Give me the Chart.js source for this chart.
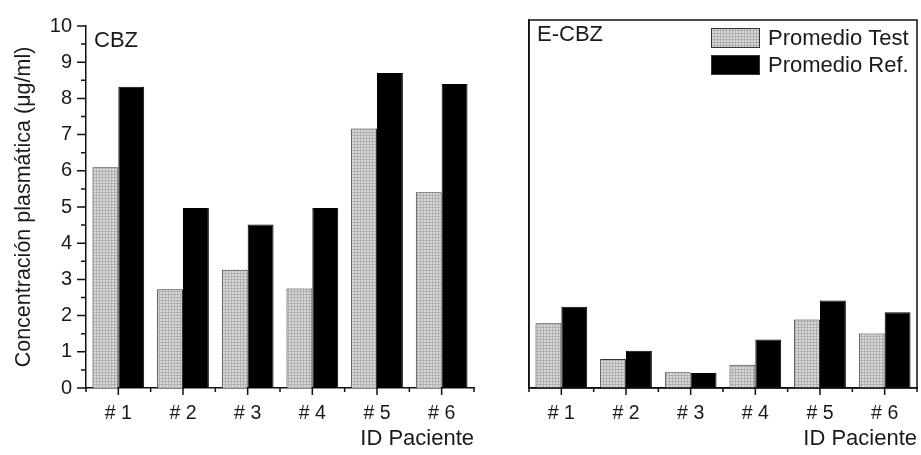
<!DOCTYPE html>
<html>
<head>
<meta charset="utf-8">
<script src="https://cdn.jsdelivr.net/npm/chart.js@4.4.0/dist/chart.umd.min.js"></script>
<style>
  body { margin: 0; background: #fff; }
  #wrap { position: relative; width: 921px; height: 455px; }
  #left { position: absolute; left: 0; top: 0; }
  #right { position: absolute; left: 480px; top: 0; }
</style>
</head>
<body>
<div id="wrap">
  <canvas id="left" width="480" height="455"></canvas>
  <canvas id="right" width="441" height="455"></canvas>
</div>
<script>
const patients = ["# 1", "# 2", "# 3", "# 4", "# 5", "# 6"];
const cbzTest = [6.10, 2.73, 3.27, 2.75, 7.17, 5.41];
const cbzRef = [8.32, 4.97, 4.52, 4.97, 8.70, 8.40];
const ecbzTest = [1.76, 0.79, 0.43, 0.63, 1.86, 1.48];
const ecbzRef = [2.21, 1.01, 0.41, 1.32, 2.38, 2.06];
const yTicks = [0, 1, 2, 3, 4, 5, 6, 7, 8, 9, 10];

const FONT = "'Liberation Sans', Arial, sans-serif";
const INK = "#111";

// light grey cross-hatch fill for the "Test" bars
function gridPattern() {
  const c = document.createElement("canvas");
  c.width = 3; c.height = 3;
  const g = c.getContext("2d");
  g.fillStyle = "#d8d8d8";
  g.fillRect(0, 0, 3, 3);
  g.fillStyle = "#b0b0b0";
  g.fillRect(0, 0, 3, 1);
  g.fillRect(0, 0, 1, 3);
  return g.createPattern(c, "repeat");
}
const testFill = gridPattern();

// tick marks (major + minor), panel label, frame, legend
const decorations = {
  id: "decorations",
  afterDraw(chart, args, opts) {
    const ctx = chart.ctx;
    const { left, right, top, bottom } = chart.chartArea;
    const x = chart.scales.x, y = chart.scales.y;
    ctx.save();
    ctx.strokeStyle = INK;
    ctx.lineWidth = 1.5;
    ctx.beginPath();
    // x axis: major at categories, minor at boundaries
    patients.forEach((p, i) => {
      const px = x.getPixelForValue(i);
      ctx.moveTo(px, bottom); ctx.lineTo(px, bottom + 7);
    });
    for (let i = 0; i <= patients.length; i++) {
      const px = x.getPixelForValue(i - 0.5);
      ctx.moveTo(px, bottom); ctx.lineTo(px, bottom + 4);
    }
    if (opts.yTicks) {
      yTicks.forEach((v, i) => {
        const py = y.getPixelForValue(v);
        ctx.moveTo(left, py); ctx.lineTo(left - 9, py);
        if (i < yTicks.length - 1) {
          const pm = y.getPixelForValue((v + yTicks[i + 1]) / 2);
          ctx.moveTo(left, pm); ctx.lineTo(left - 5, pm);
        }
      });
    }
    ctx.stroke();
    if (opts.frame) {
      ctx.strokeRect(left, top, right - left, bottom - top);
    }
    // panel label
    ctx.fillStyle = "#1a1a1a";
    ctx.font = "22px " + FONT;
    ctx.textBaseline = "top";
    ctx.textAlign = "left";
    ctx.fillText(opts.label, left + 8, top + 4);
    // legend
    if (opts.legend) {
      const bx = right - 206;
      chart.data.datasets.forEach((ds, i) => {
        const by = top + 8 + i * 27;
        ctx.fillStyle = ds.backgroundColor;
        ctx.fillRect(bx, by, 49, 20);
        ctx.lineWidth = 1;
        ctx.strokeStyle = "#333";
        ctx.strokeRect(bx + 0.5, by + 0.5, 48, 19);
        ctx.fillStyle = "#1a1a1a";
        ctx.textBaseline = "middle";
        ctx.fillText(ds.label, bx + 57, by + 11);
      });
    }
    ctx.restore();
  }
};

function makeChart(id, test, ref, cfg) {
  return new Chart(document.getElementById(id), {
    type: "bar",
    data: {
      labels: patients,
      datasets: [
        { label: "Promedio Test", data: test, backgroundColor: testFill,
          borderColor: "#333", borderWidth: 1 },
        { label: "Promedio Ref.", data: ref, backgroundColor: "#000",
          borderColor: "#000", borderWidth: 1 }
      ]
    },
    options: {
      responsive: false,
      animation: false,
      devicePixelRatio: 1,
      categoryPercentage: 0.8,
      barPercentage: 1.0,
      layout: { padding: { left: 0, top: 20, right: cfg.padRight, bottom: 0 } },
      plugins: {
        legend: { display: false },
        tooltip: { enabled: false },
        decorations: { label: cfg.label, frame: cfg.frame, legend: cfg.legend, yTicks: cfg.yTicks }
      },
      scales: {
        x: {
          grid: { display: false, drawTicks: false },
          border: { display: true, color: INK, width: 1.5 },
          ticks: { color: "#1a1a1a", padding: 14, font: { family: FONT, size: 19.5 } },
          title: { display: true, text: "ID Paciente", align: "end", color: "#1a1a1a",
                   font: { family: FONT, size: 22 }, padding: { top: 0, bottom: 3 } },
          afterFit: (s) => { s.height = 67; }
        },
        y: {
          min: 0, max: 10,
          grid: { display: false, drawTicks: false },
          border: { display: true, color: INK, width: 1.5 },
          ticks: { display: cfg.yTicks, stepSize: 1, padding: 14, color: "#1a1a1a",
                   font: { family: FONT, size: 20 } },
          title: { display: cfg.yTicks, text: "Concentración plasmática (μg/ml)", color: "#1a1a1a",
                   font: { family: FONT, size: 21.5 }, padding: { top: 11, bottom: 0 } },
          afterFit: (s) => { s.width = cfg.yWidth; }
        }
      }
    },
    plugins: [decorations]
  });
}

makeChart("left", cbzTest, cbzRef, { label: "CBZ", frame: false, legend: false, yTicks: true, yWidth: 86, padRight: 6 });
makeChart("right", ecbzTest, ecbzRef, { label: "E-CBZ", frame: true, legend: true, yTicks: false, yWidth: 49, padRight: 4 });
</script>
</body>
</html>
